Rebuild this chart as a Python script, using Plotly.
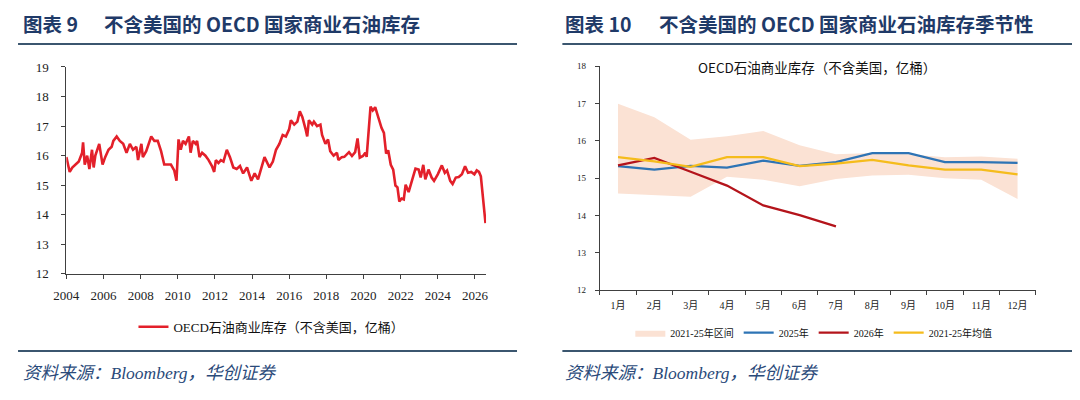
import plotly.graph_objects as go

# ---------------- Left chart data (decimal years, 亿桶) ----------------
years = [2004.0, 2004.18, 2004.32, 2004.5, 2004.67, 2004.85, 2004.9, 2004.99, 2005.12, 2005.24,
         2005.38, 2005.47, 2005.56, 2005.77, 2005.95, 2006.09, 2006.27, 2006.44, 2006.53, 2006.71,
         2006.88, 2007.06, 2007.24, 2007.42, 2007.59, 2007.77, 2007.86, 2008.04, 2008.12, 2008.3,
         2008.57, 2008.74, 2008.92, 2009.1, 2009.27, 2009.45, 2009.63, 2009.81, 2009.93, 2010.04,
         2010.16, 2010.28, 2010.42, 2010.6, 2010.69, 2010.81, 2010.96, 2011.04, 2011.17, 2011.31,
         2011.49, 2011.66, 2011.84, 2011.96, 2012.05, 2012.19, 2012.32, 2012.46, 2012.64, 2012.81,
         2012.99, 2013.17, 2013.35, 2013.52, 2013.73, 2013.96, 2014.14, 2014.32, 2014.5, 2014.67,
         2014.94, 2015.12, 2015.29, 2015.47, 2015.65, 2015.82, 2016.0, 2016.09, 2016.27, 2016.44,
         2016.57, 2016.71, 2016.88, 2016.97, 2017.06, 2017.24, 2017.33, 2017.5, 2017.68, 2017.77,
         2017.95, 2018.09, 2018.21, 2018.39, 2018.57, 2018.65, 2018.83, 2018.97, 2019.22, 2019.38,
         2019.55, 2019.68, 2019.8, 2019.97, 2020.1, 2020.17, 2020.38, 2020.5, 2020.63, 2020.8,
         2020.97, 2021.1, 2021.22, 2021.33, 2021.47, 2021.6, 2021.72, 2021.83, 2021.93, 2022.05,
         2022.17, 2022.27, 2022.43, 2022.63, 2022.8, 2022.97, 2023.08, 2023.22, 2023.33, 2023.5,
         2023.67, 2023.8, 2024.0, 2024.22, 2024.38, 2024.5, 2024.67, 2024.8, 2024.97, 2025.13,
         2025.3, 2025.47, 2025.63, 2025.8, 2025.97, 2026.1, 2026.22, 2026.32, 2026.4, 2026.46,
         2026.52, 2026.57]
stocks = [15.95, 15.45, 15.6, 15.7, 15.8, 16.1, 16.45, 15.7, 16.0, 15.55,
          16.2, 15.6, 16.0, 16.4, 15.7, 15.95, 16.2, 16.3, 16.5, 16.65,
          16.5, 16.4, 16.1, 16.4, 16.2, 16.3, 15.85, 16.4, 15.95, 16.15,
          16.65, 16.5, 16.5, 16.15, 15.7, 15.7, 15.7, 15.5, 15.15, 16.55,
          16.2, 16.5, 16.4, 16.65, 16.1, 16.5, 16.4, 16.5, 15.95, 16.1,
          16.0, 15.85, 15.65, 15.45, 15.85, 15.75, 15.85, 15.8, 16.2, 15.95,
          15.6, 15.55, 15.65, 15.4, 15.6, 15.15, 15.4, 15.2, 15.6, 15.95,
          15.6, 15.8, 16.2, 16.4, 16.7, 16.65, 16.9, 17.2, 17.05, 17.15,
          17.5, 17.3, 16.9, 16.65, 17.2, 17.05, 17.15, 17.0, 17.05, 16.7,
          16.4, 16.55, 16.15, 16.0, 16.1, 15.85, 15.95, 15.96, 16.12, 15.99,
          16.12, 16.58, 15.93, 15.99, 16.1, 15.96, 17.66, 17.53, 17.64, 17.26,
          16.94, 16.77, 16.07, 16.18, 15.69, 15.53, 14.99, 14.93, 14.45, 14.55,
          14.52, 15.02, 14.77, 15.2, 15.56, 15.53, 15.26, 15.69, 15.2, 15.53,
          15.26, 15.15, 15.37, 15.67, 15.42, 15.5, 15.15, 15.04, 15.26, 15.28,
          15.37, 15.64, 15.42, 15.45, 15.37, 15.5, 15.45, 15.3, 14.85, 14.35,
          13.98, 13.72]
left_xticks = list(range(2004, 2027, 2))

# ---------------- Right chart data ----------------
months = ["1月", "2月", "3月", "4月", "5月", "6月", "7月", "8月", "9月", "10月", "11月", "12月"]
band_low = [14.59, 14.55, 14.5, 15.04, 14.96, 14.78, 14.98, 15.07, 15.09, 15.0, 14.96, 14.44]
band_high = [16.99, 16.63, 16.03, 16.12, 16.26, 15.88, 15.64, 15.67, 15.64, 15.56, 15.58, 15.52]
y2025 = [15.32, 15.23, 15.33, 15.28, 15.47, 15.33, 15.43, 15.67, 15.67, 15.43, 15.43, 15.41]
y2026 = [15.34, 15.54, 15.17, 14.8, 14.27, 14.01, 13.71]
avg_21_25 = [15.56, 15.45, 15.3, 15.56, 15.56, 15.32, 15.39, 15.49, 15.34, 15.23, 15.23, 15.1]

# page offset (the page body adds an 8 px margin around the figure)
OFF = 8
W, H = 1080, 400


def X(px):
    return (px - OFF) / W


def Y(py):
    return 1 - (py - OFF) / H


NAVY = "#1F3A68"
RULE = "#3B566F"
AXC = "#404040"
SERIF = "Liberation Serif, Noto Sans CJK SC, serif"
CJK = "Noto Sans CJK SC, sans-serif"

fig = go.Figure()

# Left line
fig.add_trace(go.Scatter(x=years, y=stocks, mode="lines", name="OECD石油商业库存（不含美国，亿桶）",
                         line=dict(color="#E3202A", width=2.6), xaxis="x", yaxis="y", legend="legend"))

# Right chart
fig.add_trace(go.Scatter(x=months, y=band_low, mode="lines", line=dict(width=0, color="#FBE2D4"),
                         showlegend=False, hoverinfo="skip", xaxis="x2", yaxis="y2", legend="legend2"))
fig.add_trace(go.Scatter(x=months, y=band_high, mode="lines", fill="tonexty", fillcolor="#FBE2D4",
                         line=dict(width=0, color="#FBE2D4"), name="2021-25年区间",
                         xaxis="x2", yaxis="y2", legend="legend2"))
fig.add_trace(go.Scatter(x=months, y=y2025, mode="lines", name="2025年",
                         line=dict(color="#2E74B5", width=2.2), xaxis="x2", yaxis="y2", legend="legend2"))
fig.add_trace(go.Scatter(x=months[:len(y2026)], y=y2026, mode="lines", name="2026年",
                         line=dict(color="#B4141B", width=2.2), xaxis="x2", yaxis="y2", legend="legend2"))
fig.add_trace(go.Scatter(x=months, y=avg_21_25, mode="lines", name="2021-25年均值",
                         line=dict(color="#F5BC1C", width=2.2), xaxis="x2", yaxis="y2", legend="legend2"))

axis_common = dict(showgrid=False, zeroline=False, showline=True, linecolor=AXC, linewidth=1,
                   ticks="outside", ticklen=4, tickcolor=AXC)

fig.update_layout(
    width=W, height=H, margin=dict(l=0, r=0, t=0, b=0),
    paper_bgcolor="white", plot_bgcolor="white",
    xaxis=dict(domain=[X(54), X(479.6)], range=[2004, 2026.6], tickvals=left_xticks,
               tickfont=dict(family=SERIF, size=13, color="#222"), anchor="y",
               ticklabelstandoff=5, **axis_common),
    yaxis=dict(domain=[Y(277), Y(62)], range=[12, 19], dtick=1,
               tickfont=dict(family=SERIF, size=13, color="#222"), anchor="x",
               ticklabelstandoff=10, **axis_common),
    xaxis2=dict(domain=[X(595), X(1037)], type="category", range=[-0.5, 11.5],
                tickson="boundaries", tickfont=dict(family=SERIF, size=10, color="#222"),
                anchor="y2", ticklabelstandoff=6, **axis_common),
    yaxis2=dict(domain=[Y(294), Y(61)], range=[12, 18], dtick=1,
                tickfont=dict(family=SERIF, size=9, color="#222"), anchor="x2",
                ticklabelstandoff=7, **axis_common),
    legend=dict(orientation="h", x=X(262), xanchor="center", y=Y(332), yanchor="middle",
                font=dict(family=SERIF, size=13, color="#111"), bgcolor="rgba(0,0,0,0)"),
    legend2=dict(orientation="h", x=X(812), xanchor="center", y=Y(338), yanchor="middle",
                 font=dict(family=SERIF, size=10, color="#111"), bgcolor="rgba(0,0,0,0)",
                 traceorder="normal"),
    showlegend=True,
)

# Header rules and footer rules
for x0, x1 in [(5, 511), (557, 1078)]:
    fig.add_shape(type="line", xref="paper", yref="paper", x0=X(x0), x1=X(x1),
                  y0=Y(38), y1=Y(38), line=dict(color=RULE, width=2))
    fig.add_shape(type="line", xref="paper", yref="paper", x0=X(x0), x1=X(x1),
                  y0=Y(357), y1=Y(357), line=dict(color=RULE, width=2))

# Header titles
headers = [(8, "<b>图表 9</b>"), (90, "<b>不含美国的 OECD 国家商业石油库存</b>"),
           (558, "<b>图表 10</b>"), (653, "<b>不含美国的 OECD 国家商业石油库存季节性</b>")]
for hx, htxt in headers:
    fig.add_annotation(text=htxt, xref="paper", yref="paper", x=X(hx), y=Y(17),
                       xanchor="left", yanchor="middle", showarrow=False,
                       font=dict(family=CJK, size=19.5, color=NAVY))

# Right chart title
fig.add_annotation(text="OECD石油商业库存（不含美国，亿桶）", xref="paper", yref="paper",
                   x=X(815), y=Y(62), xanchor="center", yanchor="middle", showarrow=False,
                   font=dict(family=CJK, size=13.5, color="#111"))
# Footers
for xx in (8, 558):
    fig.add_annotation(text="<i>资料来源：Bloomberg，华创证券</i>", xref="paper", yref="paper",
                       x=X(xx), y=Y(380), xanchor="left", yanchor="middle", showarrow=False,
                       font=dict(family=SERIF, size=17.5, color="#2A4A7A"))

fig.write_html("out.html")
